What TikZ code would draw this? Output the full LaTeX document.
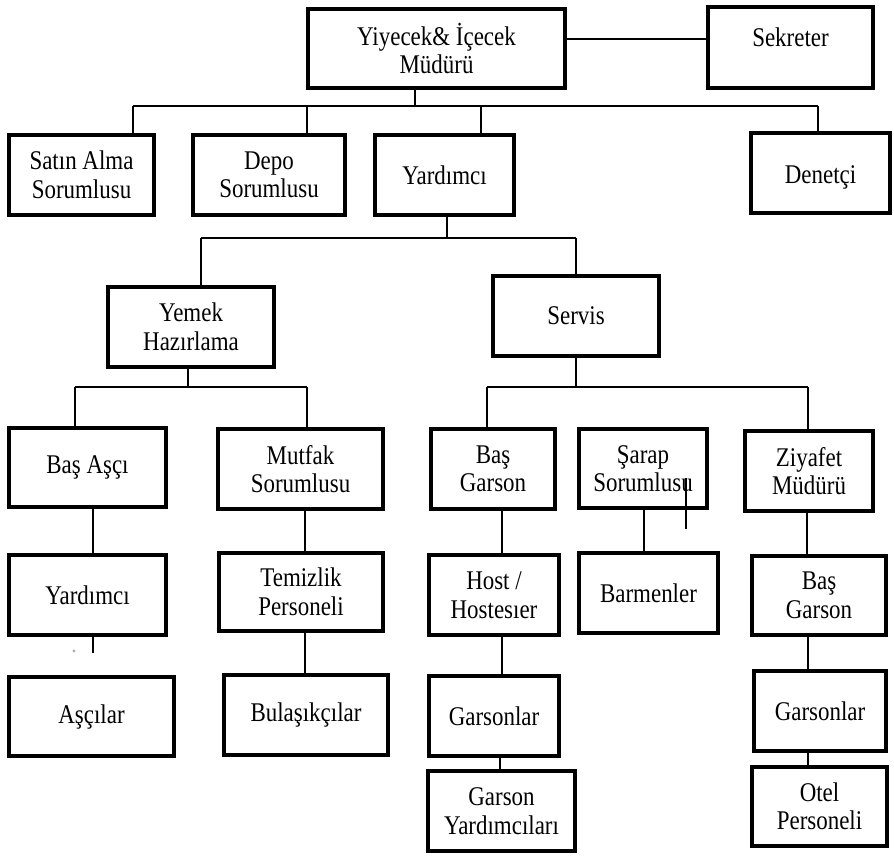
\documentclass[tikz,border=0pt]{standalone}
\usepackage{fontspec}
\setmainfont{Liberation Serif}[FakeStretch=0.85]
\usetikzlibrary{calc}

\tikzset{
  orgbox/.style={draw=black, line width=4pt, inner sep=2pt, align=center,
    font={\fontsize{27}{28.5}\selectfont}},
  link/.style={draw=black, line width=1.6pt}
}

% \orgnode{name}{left}{top}{right}{bottom}{text}
\newcommand\orgnode[6]{%
  \node[orgbox, minimum width={#4-#2-4}, minimum height={#5-#3-4}]
    (#1) at ({(#2+#4)/2},{(#3+#5)/2}) {#6};}

\begin{document}
\begin{tikzpicture}[x=1pt,y=-1pt]
\useasboundingbox (0,0) rectangle (894,855);

% level 0
\orgnode{top}{306}{7}{567}{90}{Yiyecek\& İçecek\\Müdürü}
\orgnode{sek}{706}{5}{875}{90}{\raisebox{10pt}[\height][\depth]{Sekreter}}
% level 1
\orgnode{satin}{7}{133}{156}{217}{Satın Alma\\Sorumlusu}
\orgnode{depo}{191}{133}{347}{217}{Depo\\Sorumlusu}
\orgnode{yard}{373}{133}{516}{217}{Yardımcı}
\orgnode{denet}{749}{131}{892}{215}{\raisebox{-4pt}[\height][\depth]{Denetçi}}
% level 2
\orgnode{yemek}{106}{285}{276}{369}{Yemek\\Hazırlama}
\orgnode{servis}{491}{274}{661}{358}{Servis}
% level 3
\orgnode{basasci}{7}{426}{168}{509}{Baş Aşçı}
\orgnode{mutfak}{216}{427}{385}{511}{Mutfak\\Sorumlusu}
\orgnode{basgarson}{429}{427}{557}{511}{Baş\\Garson}
\orgnode{sarap}{577}{427}{709}{510}{Şarap\\Sorumlusu}
\orgnode{ziyafet}{743}{429}{875}{513}{Ziyafet\\Müdürü}
% lower levels
\orgnode{yardb}{7}{553}{168}{637}{Yardımcı}
\orgnode{ascilar}{7}{675}{176}{758}{Aşçılar}
\orgnode{temizlik}{217}{551}{385}{633}{Temizlik\\Personeli}
\orgnode{bulasik}{222}{673}{390}{757}{Bulaşıkçılar}
\orgnode{host}{427}{553}{561}{637}{Host /\\Hostesıer}
\orgnode{garsona}{427}{674}{561}{758}{Garsonlar}
\orgnode{garsonyard}{426}{769}{577}{853}{Garson\\Yardımcıları}
\orgnode{barmen}{577}{551}{720}{635}{Barmenler}
\orgnode{basgarsonb}{750}{554}{888}{637}{Baş\\Garson}
\orgnode{garsonb}{752}{669}{888}{753}{Garsonlar}
\orgnode{otel}{750}{765}{889}{848}{Otel\\Personeli}

% manager to secretary
\coordinate (sekline) at (0,39);
\draw[link] (top.east |- sekline) -- (sek.west |- sekline);

% first bus
\coordinate (busA) at (415,106);
\draw[link] (busA |- top.south) -- (busA);
\draw[link] (133,106) -- (818,106);
\draw[link] (133,106) -- (133,0 |- satin.north);
\draw[link] (307,106) -- (307,0 |- depo.north);
\draw[link] (481,106) -- (481,0 |- yard.north);
\draw[link] (818,106) -- (818,0 |- denet.north);

% assistant bus
\coordinate (busB) at (447,238);
\draw[link] (busB |- yard.south) -- (busB);
\draw[link] (201,238) -- (576,238);
\draw[link] (201,238) -- (201,0 |- yemek.north);
\draw[link] (576,238) -- (576,0 |- servis.north);

% kitchen bus
\coordinate (busC) at (188,387);
\draw[link] (busC |- yemek.south) -- (busC);
\draw[link] (75,387) -- (307,387);
\draw[link] (75,387) -- (75,0 |- basasci.north);
\draw[link] (307,387) -- (307,0 |- mutfak.north);

% service bus
\coordinate (busD) at (576,387);
\draw[link] (busD |- servis.south) -- (busD);
\draw[link] (487,387) -- (808,387);
\draw[link] (487,387) -- (487,0 |- basgarson.north);
\draw[link] (808,387) -- (808,0 |- ziyafet.north);

% vertical chains
\draw[link] (93,0 |- basasci.south) -- (93,0 |- yardb.north);
\coordinate (stub) at (93,653);
\draw[link] (stub |- yardb.south) -- (stub);
\fill[blue!30!gray!50] (74,651) circle (1.6);
\draw[link] (305,0 |- mutfak.south) -- (305,0 |- temizlik.north);
\draw[link] (305,0 |- temizlik.south) -- (305,0 |- bulasik.north);
\draw[link] (502,0 |- basgarson.south) -- (502,0 |- host.north);
\draw[link] (502,0 |- host.south) -- (502,0 |- garsona.north);
\draw[link] (500,0 |- garsona.south) -- (500,0 |- garsonyard.north);
\draw[link] (644,0 |- sarap.south) -- (644,0 |- barmen.north);
\draw[link] (686,478) -- (686,529);
\draw[link] (807,0 |- ziyafet.south) -- (807,0 |- basgarsonb.north);
\draw[link] (808,0 |- basgarsonb.south) -- (808,0 |- garsonb.north);
\draw[link] (808,0 |- garsonb.south) -- (808,0 |- otel.north);
\end{tikzpicture}
\end{document}
